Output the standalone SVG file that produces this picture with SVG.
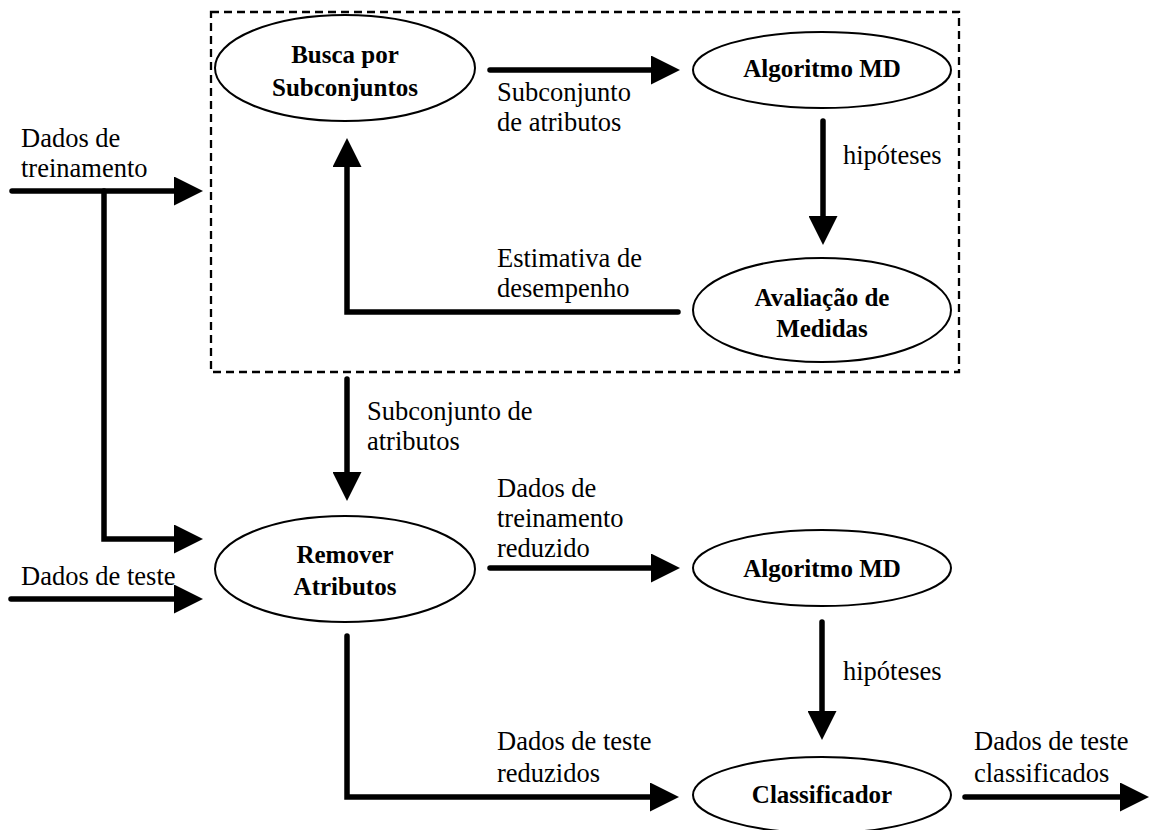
<svg xmlns="http://www.w3.org/2000/svg" width="1149" height="830" viewBox="0 0 1149 830">
<style>
.node ellipse{fill:#fff;stroke:#000;stroke-width:2}
.node text{font-family:"Liberation Serif","Times New Roman",serif;font-weight:bold;font-size:25px;text-anchor:middle;fill:#000}
.lbl{font-family:"Liberation Serif","Times New Roman",serif;font-size:26.5px;fill:#000}
.conn{fill:none;stroke:#000;stroke-width:5.5;stroke-linecap:round;stroke-linejoin:miter}
.arr{marker-end:url(#ah)}
</style>
<defs>
<marker id="ah" markerUnits="userSpaceOnUse" viewBox="0 0 29 29" markerWidth="29" markerHeight="29" refX="0" refY="14.5" orient="auto">
<path d="M0,0 L29,14.5 L0,29 z" fill="#000"/>
</marker>
</defs>
<rect width="1149" height="830" fill="#fff"/>
<rect id="boundary" x="211" y="12" width="748" height="360" fill="none" stroke="#000" stroke-width="2.3" stroke-dasharray="8,5"/>

<g id="connectors">
<path class="conn arr" d="M490,70 H651"/>
<path class="conn arr" d="M823,121 V216"/>
<path class="conn arr" d="M678,312 H347 V167"/>
<path class="conn arr" d="M12,191 H174"/>
<path class="conn arr" d="M104,191 V539 H174"/>
<path class="conn arr" d="M347,379 V472"/>
<path class="conn arr" d="M11,599 H174"/>
<path class="conn arr" d="M490,568 H651"/>
<path class="conn arr" d="M822,622 V711"/>
<path class="conn arr" d="M347,636 V797 H650"/>
<path class="conn arr" d="M965,797 H1120"/>
</g>

<g id="labels">
<text class="lbl" x="497" y="101">Subconjunto</text>
<text class="lbl" x="497" y="131">de atributos</text>
<text class="lbl" x="843" y="164">hipóteses</text>
<text class="lbl" x="497" y="267">Estimativa de</text>
<text class="lbl" x="497" y="297">desempenho</text>
<text class="lbl" x="21" y="147">Dados de</text>
<text class="lbl" x="21" y="177">treinamento</text>
<text class="lbl" x="367" y="420">Subconjunto de</text>
<text class="lbl" x="367" y="450">atributos</text>
<text class="lbl" x="497" y="497">Dados de</text>
<text class="lbl" x="497" y="527">treinamento</text>
<text class="lbl" x="497" y="557">reduzido</text>
<text class="lbl" x="21" y="585">Dados de teste</text>
<text class="lbl" x="843" y="680">hipóteses</text>
<text class="lbl" x="497" y="750">Dados de teste</text>
<text class="lbl" x="497" y="782">reduzidos</text>
<text class="lbl" x="974" y="750">Dados de teste</text>
<text class="lbl" x="974" y="782">classificados</text>
</g>

<g id="busca" class="node">
<ellipse cx="345" cy="68" rx="130" ry="53"/>
<text x="345" y="63">Busca por</text>
<text x="345" y="96">Subconjuntos</text>
</g>
<g id="algoritmo1" class="node">
<ellipse cx="822" cy="70" rx="129" ry="38"/>
<text x="822" y="77">Algoritmo MD</text>
</g>
<g id="avaliacao" class="node">
<ellipse cx="822" cy="310" rx="129" ry="52"/>
<text x="822" y="306">Avaliação de</text>
<text x="822" y="337">Medidas</text>
</g>
<g id="remover" class="node">
<ellipse cx="345" cy="569" rx="130" ry="53"/>
<text x="345" y="563">Remover</text>
<text x="345" y="595">Atributos</text>
</g>
<g id="algoritmo2" class="node">
<ellipse cx="822" cy="568" rx="129" ry="38"/>
<text x="822" y="577">Algoritmo MD</text>
</g>
<g id="classificador" class="node">
<ellipse cx="822" cy="795" rx="129" ry="38"/>
<text x="822" y="803">Classificador</text>
</g>
</svg>
